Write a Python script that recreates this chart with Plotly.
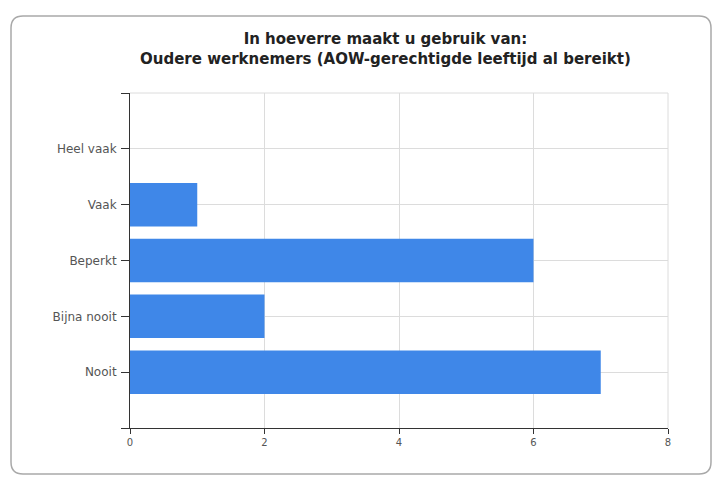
import plotly.graph_objects as go

# Survey answers, bottom to top
categories = ["Nooit", "Bijna nooit", "Beperkt", "Vaak", "Heel vaak"]
counts = [7, 2, 6, 1, 0]
x_ticks = [0, 2, 4, 6, 8]

title_lines = [
    "In hoeverre maakt u gebruik van:",
    "Oudere werknemers (AOW-gerechtigde leeftijd al bereikt)",
]

W, H = 717, 477
ML, MR, MT, MB = 130, 49, 93, 49
PW, PH = W - ML - MR, H - MT - MB

positions = list(range(len(categories)))

fig = go.Figure(
    go.Bar(
        x=counts,
        y=positions,
        orientation="h",
        width=0.78,
        marker=dict(color="#3f87e8", line=dict(width=0)),
        hoverinfo="x+text",
        text=categories,
        textposition="none",
    )
)


def px_to_paper(px, py):
    return (px - ML) / PW, (H - MB - py) / PH


def P(px, py):
    a, b = px_to_paper(px, py)
    return f"{a:.5f},{b:.5f}"


# Rounded panel border around the whole chart
x0, y0, x1, y1, r = 11, 16, 711, 474, 12
path = (
    f"M {P(x0 + r, y0)} L {P(x1 - r, y0)} Q {P(x1, y0)} {P(x1, y0 + r)} "
    f"L {P(x1, y1 - r)} Q {P(x1, y1)} {P(x1 - r, y1)} "
    f"L {P(x0 + r, y1)} Q {P(x0, y1)} {P(x0, y1 - r)} "
    f"L {P(x0, y0 + r)} Q {P(x0, y0)} {P(x0 + r, y0)} Z"
)

# Two-line bold heading
title_x = px_to_paper(385, 0)[0]
annotations = [
    dict(
        text="<b>" + "<br>".join(title_lines) + "</b>",
        xref="paper",
        yref="paper",
        x=title_x,
        y=px_to_paper(0, 49)[1],
        xanchor="center",
        yanchor="middle",
        align="center",
        showarrow=False,
        font=dict(family="DejaVu Sans", size=15, color="#222"),
    )
]

fig.update_layout(
    width=W,
    height=H,
    margin=dict(l=ML, r=MR, t=MT, b=MB),
    paper_bgcolor="white",
    plot_bgcolor="white",
    showlegend=False,
    font=dict(family="DejaVu Sans", size=10, color="#444"),
    annotations=annotations,
    shapes=[
        dict(
            type="path",
            xref="paper",
            yref="paper",
            path=path,
            line=dict(color="#a9a9a9", width=1.5),
            fillcolor="rgba(0,0,0,0)",
            layer="below",
        ),
        # grid frame along the top and right edges of the plot area
        dict(
            type="path",
            xref="paper",
            yref="paper",
            path="M 0,1 L 1,1 L 1,0",
            line=dict(color="#dcdcdc", width=1),
            layer="below",
        ),
    ],
    xaxis=dict(
        range=[0, 8],
        tickvals=x_ticks,
        ticks="outside",
        ticklen=5,
        tickcolor="#333",
        showline=True,
        linecolor="#333",
        linewidth=1,
        showgrid=True,
        gridcolor="#dcdcdc",
        zeroline=False,
        tickfont=dict(size=10, color="#555"),
        fixedrange=True,
    ),
    yaxis=dict(
        range=[-1, len(categories)],
        tickvals=list(range(-1, len(categories) + 1)),
        ticktext=[""] + categories + [""],
        ticks="outside",
        ticklen=8,
        tickcolor="#333",
        showline=True,
        linecolor="#333",
        linewidth=1,
        showgrid=True,
        gridcolor="#dcdcdc",
        zeroline=False,
        tickfont=dict(size=12, color="#555"),
        ticklabelstandoff=2,
        fixedrange=True,
    ),
)

fig.write_html("out.html")
